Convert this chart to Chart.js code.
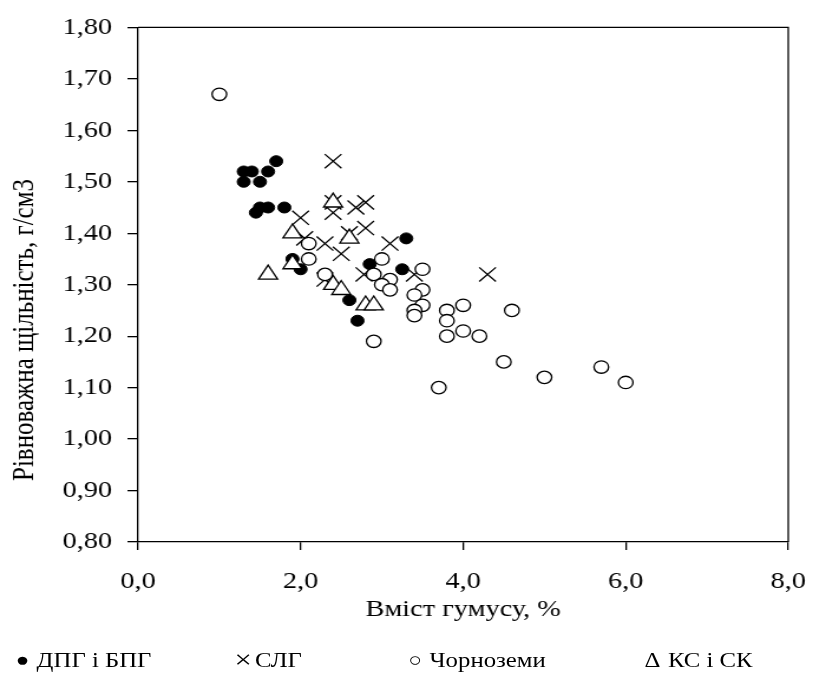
<!DOCTYPE html>
<html>
<head>
<meta charset="utf-8">
<script src="https://cdn.jsdelivr.net/npm/chart.js@4.4.0/dist/chart.umd.min.js"></script>
<style>
	html, body { margin: 0; padding: 0; background: #fff; }
	#wrap {
		position: absolute; left: 0; top: 0;
		width: 700px; height: 677px;
		transform: scaleX(1.18); transform-origin: 0 0;
	}
	#legend span {
		position: absolute; top: 647px; line-height: 26px;
		font-family: "Liberation Serif", "Times New Roman", serif;
		font-size: 21px; color: #000; white-space: nowrap;
	}
	#legend .mk { width: 16px; text-align: center; }
</style>
</head>
<body>
<div id="wrap">
	<canvas id="chart" width="700" height="677"></canvas>
	<div id="legend">
		<span class="mk" style="left:11px;font-size:19px">●</span>
		<span style="left:31px">ДПГ і БПГ</span>
		<span class="mk" style="left:198px;font-size:26px">×</span>
		<span style="left:216px">СЛГ</span>
		<span class="mk" style="left:344px;font-size:19px">○</span>
		<span style="left:364px">Чорноземи</span>
		<span class="mk" style="left:545px">Δ</span>
		<span style="left:566px">КС і СК</span>
	</div>
</div>
<script>
// Дані з рисунка
const dpgX = [1.3, 1.4, 1.6, 1.7, 1.3, 1.5, 1.45, 1.5, 1.6, 1.8, 3.3, 1.9, 2.0, 2.6, 2.7, 2.85, 3.25];
const dpgY = [1.52, 1.52, 1.52, 1.54, 1.50, 1.50, 1.44, 1.45, 1.45, 1.45, 1.39, 1.35, 1.33, 1.27, 1.23, 1.34, 1.33];

const slgX = [2.4, 2.8, 2.4, 2.68, 2.4, 2.0, 2.8, 2.6, 3.1, 2.3, 2.05, 2.5, 2.78, 2.3, 3.4, 4.3];
const slgY = [1.54, 1.46, 1.46, 1.45, 1.44, 1.43, 1.41, 1.40, 1.38, 1.38, 1.39, 1.36, 1.32, 1.31, 1.32, 1.32];

const chernX = [1.0, 2.1, 2.1, 2.3, 3.0, 2.9, 3.1, 3.0, 3.1, 3.5, 3.5, 3.4, 3.5, 3.4, 3.4, 4.0, 3.8, 3.8, 3.8, 4.0, 4.2, 4.6, 2.9, 4.5, 5.0, 5.7, 6.0, 3.7];
const chernY = [1.67, 1.38, 1.35, 1.32, 1.35, 1.32, 1.31, 1.30, 1.29, 1.33, 1.29, 1.28, 1.26, 1.25, 1.24, 1.26, 1.25, 1.23, 1.20, 1.21, 1.20, 1.25, 1.19, 1.15, 1.12, 1.14, 1.11, 1.10];

const ksX = [2.4, 1.9, 2.6, 1.9, 1.6, 2.4, 2.5, 2.8, 2.9];
const ksY = [1.46, 1.40, 1.39, 1.34, 1.32, 1.30, 1.29, 1.26, 1.26];

const seriesNames = ["ДПГ і БПГ", "СЛГ", "Чорноземи", "КС і СК"];
const xTitle = "Вміст гумусу, %";
const yTitle = "Рівноважна щільність, г/см3";

const toPoints = (xs, ys) => xs.map((x, i) => ({ x: x, y: ys[i] }));
const fmt = (v, d) => v.toFixed(d).replace(".", ",");

const SERIF = "'Liberation Serif', 'Times New Roman', serif";
const LW = 1.3;

// рамка зверху і справа + підпис осі Y
const framePlugin = {
	id: "frame",
	afterDraw(chart) {
		const { ctx, chartArea: a } = chart;
		ctx.save();
		ctx.strokeStyle = "#000";
		ctx.lineWidth = LW;
		ctx.beginPath();
		ctx.moveTo(a.left, a.top);
		ctx.lineTo(a.right, a.top);
		ctx.lineTo(a.right, a.bottom);
		ctx.stroke();

		ctx.translate(21, 330);
		ctx.rotate(-Math.PI / 2);
		ctx.font = "25px " + SERIF;
		ctx.fillStyle = "#000";
		ctx.textAlign = "center";
		ctx.textBaseline = "middle";
		ctx.fillText(yTitle, 0, 0);
		ctx.restore();
	},
};

new Chart(document.getElementById("chart"), {
	type: "scatter",
	data: {
		datasets: [
			{
				label: seriesNames[0],
				data: toPoints(dpgX, dpgY),
				pointStyle: "circle",
				pointRadius: 5.5,
				backgroundColor: "#000",
				borderColor: "#000",
				borderWidth: 1,
				order: 4,
			},
			{
				label: seriesNames[1],
				data: toPoints(slgX, slgY),
				pointStyle: "crossRot",
				pointRadius: 10,
				backgroundColor: "#000",
				borderColor: "#000",
				borderWidth: LW,
				order: 3,
			},
			{
				label: seriesNames[2],
				data: toPoints(chernX, chernY),
				pointStyle: "circle",
				pointRadius: 6.2,
				backgroundColor: "#fff",
				borderColor: "#000",
				borderWidth: LW,
				order: 2,
			},
			{
				label: seriesNames[3],
				data: toPoints(ksX, ksY),
				pointStyle: "triangle",
				pointRadius: 9.3,
				backgroundColor: "#fff",
				borderColor: "#000",
				borderWidth: LW,
				order: 1,
			},
		],
	},
	options: {
		responsive: false,
		animation: false,
		devicePixelRatio: 1,
		layout: { padding: { left: 0, right: 30, top: 17, bottom: 0 } },
		plugins: {
			legend: { display: false },
			tooltip: { enabled: false },
		},
		scales: {
			x: {
				type: "linear",
				min: 0,
				max: 8,
				afterFit: (s) => { s.height = 135; },
				ticks: {
					stepSize: 2,
					color: "#000",
					padding: 17,
					maxRotation: 0,
					font: { family: SERIF, size: 24 },
					callback: (v) => fmt(v, 1),
				},
				grid: {
					drawOnChartArea: false,
					drawTicks: true,
					tickLength: 8,
					color: "#000",
					lineWidth: LW,
				},
				border: { display: true, color: "#000", width: LW },
				title: {
					display: true,
					text: xTitle,
					color: "#000",
					padding: { top: 0, bottom: 53 },
					font: { family: SERIF, size: 24 },
				},
			},
			y: {
				type: "linear",
				min: 0.8,
				max: 1.8,
				afterFit: (s) => { s.width = 117; },
				ticks: {
					stepSize: 0.1,
					color: "#000",
					padding: 13,
					font: { family: SERIF, size: 24 },
					callback: (v) => fmt(v, 2),
				},
				grid: {
					drawOnChartArea: false,
					drawTicks: true,
					tickLength: 9,
					color: "#000",
					lineWidth: LW,
				},
				border: { display: true, color: "#000", width: LW },
			},
		},
	},
	plugins: [framePlugin],
});
</script>
</body>
</html>
